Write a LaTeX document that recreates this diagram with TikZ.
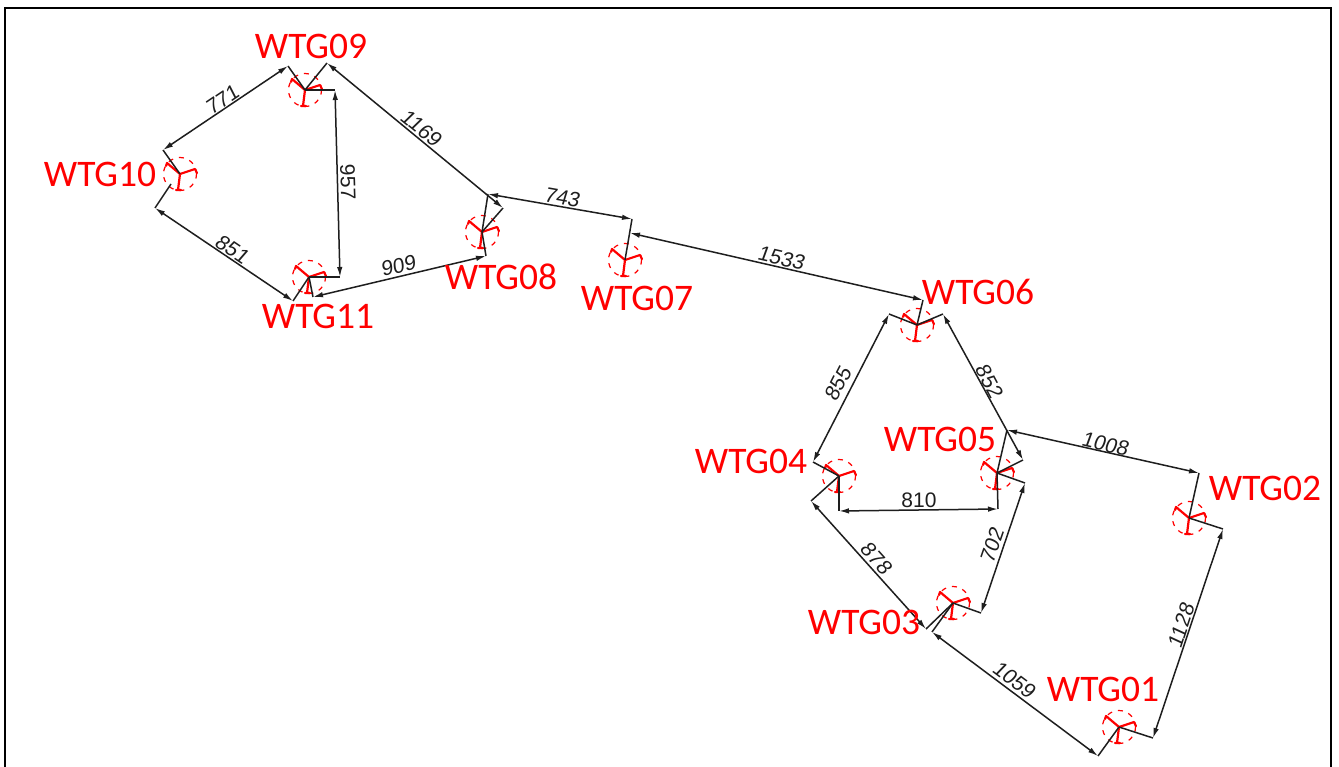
\documentclass[tikz,border=0pt]{standalone}
\usepackage{fontspec}
\setmainfont{Carlito}
\newfontfamily\dimfont[FakeSlant=0.12]{Liberation Sans}
\newfontfamily\dimup{Liberation Sans}
\usetikzlibrary{arrows.meta}
\definecolor{wred}{RGB}{255,0,0}
\definecolor{dimc}{RGB}{30,30,30}
\tikzset{
  x=1pt,y=-1pt,
  frameline/.style={draw=black,line width=1.6pt},
  turbine/.style={circle,draw=wred,line width=1.2pt,minimum size=33pt,inner sep=0pt,dash pattern=on 5pt off 6pt},
  blade/.style={draw=wred,line width=2.2pt,line cap=round,line join=round},
  wlabel/.style={text=wred,font=\fontsize{37.5}{37.5}\selectfont,inner sep=0pt},
  dimlabel/.style={text=dimc,font=\dimfont\fontsize{21}{21}\selectfont,inner sep=0pt},
  dimlabelup/.style={text=dimc,font=\dimup\fontsize{21}{21}\selectfont,inner sep=0pt},
  ext/.style={draw=dimc,line width=1.5pt},
  dimline/.style={draw=dimc,line width=1.5pt,{Latex[length=10pt,width=5.5pt]}-{Latex[length=10pt,width=5.5pt]}},
}
\newcommand{\wtg}[3]{%
  \node[turbine] (#1) at (#2,#3) {};
  \draw[blade] (#1.center) -- ++(-13,-11) -- ++(-1,3);
  \draw[blade] (#1.center) -- ++(15,-5) -- ++(2,4);
  \draw[blade] (#1.center) -- ++(-2,16) ++(-2,0) -- ++(5,0);
}
\begin{document}
\begin{tikzpicture}
\useasboundingbox (0,0) rectangle (1339,767);
\fill[white] (0,0) rectangle (1339,767);
\draw[frameline] (5,780) -- (5,8) -- (1331,8) -- (1331,780);

\wtg{t01}{1119}{727}
\wtg{t02}{1189}{518}
\wtg{t03}{953}{603}
\wtg{t04}{839}{476}
\wtg{t05}{997}{473}
\wtg{t06}{917}{325}
\wtg{t07}{625}{260}
\wtg{t08}{482}{232}
\wtg{t09}{305}{90}
\wtg{t10}{180}{174}
\wtg{t11}{309}{277}

\coordinate (a771) at (163,150);   \coordinate (b771) at (288,66);
\coordinate (a1169) at (327,63);   \coordinate (b1169) at (503,208);
\coordinate (a957) at (335,90);    \coordinate (b957) at (340,277);
\coordinate (a851) at (155,208);   \coordinate (b851) at (293,301);
\coordinate (g10) at (171,184);
\coordinate (a909) at (313,297);   \coordinate (b909) at (486,256);
\coordinate (a743) at (488,194);   \coordinate (b743) at (632,219);
\coordinate (a1533) at (630,233);  \coordinate (b1533) at (923,300);
\coordinate (a855) at (889,314);   \coordinate (b855) at (813,462);
\coordinate (a852) at (943,314);   \coordinate (b852) at (1023,460);
\coordinate (a1008) at (1007,430); \coordinate (b1008) at (1199,473);
\coordinate (a810) at (839,511);   \coordinate (b810) at (998,509);
\coordinate (a702) at (1025,483);  \coordinate (b702) at (981,613);
\coordinate (a878) at (811,501);   \coordinate (b878) at (926,629);
\coordinate (a1059) at (932,632);  \coordinate (b1059) at (1098,756);
\coordinate (a1128) at (1223,529); \coordinate (b1128) at (1153,738);

% extension lines
\draw[ext] (t10.center) -- (a771);
\draw[ext] (t09.center) -- (b771);
\draw[ext] (t09.center) -- (a1169);
\draw[ext] (t08.center) -- (b1169);
\draw[ext] (t09.center) -- (a957);
\draw[ext] (t11.center) -- (b957);
\draw[ext] (g10) -- (a851);
\draw[ext] (t11.center) -- (b851);
\draw[ext] (t11.center) -- (a909);
\draw[ext] (t08.center) -- (b909);
\draw[ext] (t08.center) -- (a743);
\draw[ext] (t07.center) -- (b743);
\draw[ext] (t06.center) -- (b1533);
\draw[ext] (t06.center) -- (a855);
\draw[ext] (t04.center) -- (b855);
\draw[ext] (t06.center) -- (a852);
\draw[ext] (t05.center) -- (b852);
\draw[ext] (t05.center) -- (a1008);
\draw[ext] (t02.center) -- (b1008);
\draw[ext] (t04.center) -- (a810);
\draw[ext] (t05.center) -- (b810);
\draw[ext] (t05.center) -- (a702);
\draw[ext] (t03.center) -- (b702);
\draw[ext] (t04.center) -- (a878);
\draw[ext] (t03.center) -- (b878);
\draw[ext] (t03.center) -- (a1059);
\draw[ext] (t01.center) -- (b1059);
\draw[ext] (t02.center) -- (a1128);
\draw[ext] (t01.center) -- (b1128);

% dimension lines
\draw[dimline] (a771) -- (b771);
\draw[dimline] (a1169) -- (b1169);
\draw[dimline] (a957) -- (b957);
\draw[dimline] (a851) -- (b851);
\draw[dimline] (a909) -- (b909);
\draw[dimline] (a743) -- (b743);
\draw[dimline] (a1533) -- (b1533);
\draw[dimline] (a855) -- (b855);
\draw[dimline] (a852) -- (b852);
\draw[dimline] (a1008) -- (b1008);
\draw[dimline] (a810) -- (b810);
\draw[dimline] (a702) -- (b702);
\draw[dimline] (a878) -- (b878);
\draw[dimline] (a1059) -- (b1059);
\draw[dimline] (a1128) -- (b1128);

% dimension values
\node[dimlabel,rotate=34] (n771) at (222,100) {771};
\node[dimlabel,rotate=-39] (n1169) at (421,128) {1169};
\node[dimlabelup,rotate=-88] (n957) at (348,182) {957};
\node[dimlabel,rotate=-34] (n851) at (232,249) {851};
\node[dimlabel,rotate=13] (n909) at (398,266) {909};
\node[dimlabel,rotate=-10] (n743) at (562,197) {743};
\node[dimlabel,rotate=-13] (n1533) at (781,258) {1533};
\node[dimlabel,rotate=63] (n855) at (838,384) {855};
\node[dimlabel,rotate=-62] (n852) at (989,381) {852};
\node[dimlabel,rotate=-13] (n1008) at (1105,444) {1008};
\node[dimlabelup] (n810) at (919,500) {810};
\node[dimlabel,rotate=71] (n702) at (992,546) {702};
\node[dimlabel,rotate=-48] (n878) at (876,558) {878};
\node[dimlabel,rotate=-37] (n1059) at (1014,680) {1059};
\node[dimlabel,rotate=72] (n1128) at (1181,626) {1128};

% turbine names
\node[wlabel] (l09) at (311,46) {WTG09};
\node[wlabel] (l10) at (100,174) {WTG10};
\node[wlabel] (l11) at (318,316) {WTG11};
\node[wlabel] (l08) at (501,277) {WTG08};
\node[wlabel] (l07) at (637,298) {WTG07};
\node[wlabel] (l06) at (978,292) {WTG06};
\node[wlabel] (l05) at (940,439) {WTG05};
\node[wlabel] (l04) at (751,461) {WTG04};
\node[wlabel] (l03) at (864,622) {WTG03};
\node[wlabel] (l02) at (1265,488) {WTG02};
\node[wlabel] (l01) at (1103,689) {WTG01};
\end{tikzpicture}
\end{document}
